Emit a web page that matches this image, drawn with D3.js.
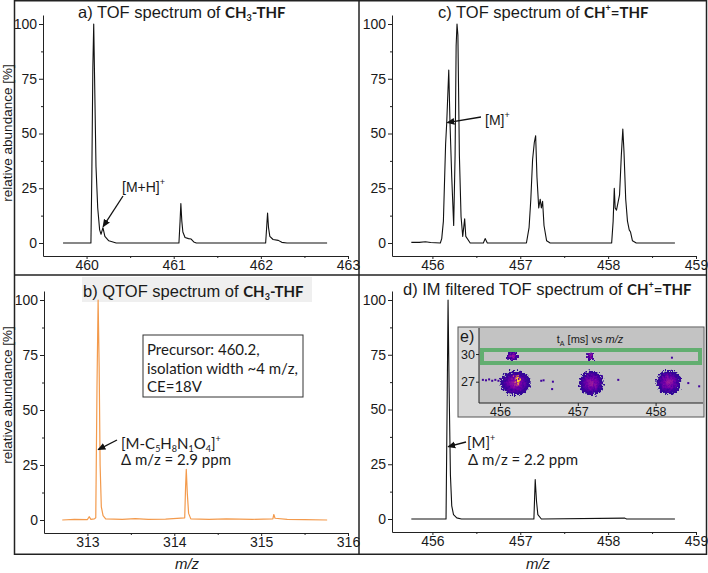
<!DOCTYPE html>
<html>
<head>
<meta charset="utf-8">
<script src="https://cdn.jsdelivr.net/npm/d3@7"></script>
<style>
  body { margin: 0; background: #fff; }
  svg text { font-family: "Liberation Sans", Arial, sans-serif; fill: #1a1a1a; }
  .axis path, .axis line { stroke: #222; }
  .cal { font-family: Lato, "Open Sans", sans-serif; }
</style>
</head>
<body>
<svg width="708" height="573"></svg>
<script>
// ***********************************
// Data: [m/z, relative abundance %]

// a) TOF spectrum of CH3-THF
var specA = [[459.73,0],[460.05,0],[460.06,30],[460.072,80],[460.082,100],[460.094,70],[460.108,35],[460.128,16],
  [460.15,6],[460.166,4],[460.188,7],[460.21,3],[460.255,1],[460.34,0],[461.06,0],[461.073,10],[461.082,18],
  [461.093,10],[461.105,5],[461.13,2.5],[461.17,2],[461.2,1.8],[461.23,0.5],[461.26,0],[462.055,0],[462.068,8],
  [462.077,13.7],[462.088,7],[462.103,3],[462.14,1.6],[462.2,1.2],[462.24,0.3],[462.3,0],[462.76,0]];

// c) TOF spectrum of CH+=THF
var specC = [[455.76,0.3],[455.85,0.3],[455.92,0.6],[455.98,0.2],[456.09,0],[456.106,2],[456.125,10],[456.15,45],
  [456.163,55],[456.186,79],[456.2,55],[456.22,30],[456.242,8],[456.258,40],[456.27,90],[456.28,100],
  [456.29,95],[456.307,40],[456.326,12],[456.345,3],[456.367,11],[456.38,3],[456.43,0],[456.58,0],[456.6,2],
  [456.625,0],[457.07,0],[457.1,7],[457.12,20],[457.14,38],[457.16,46],[457.175,49],[457.19,30],[457.21,16],
  [457.227,20],[457.24,16],[457.254,19],[457.27,8],[457.3,1],[457.34,0],[458.04,0],[458.057,10],[458.07,25],
  [458.08,16],[458.095,15],[458.11,18],[458.13,22],[458.15,40],[458.167,52],[458.18,42],[458.2,20],
  [458.22,10],[458.24,6],[458.255,5],[458.277,1],[458.32,0],[458.76,0]];

// b) QTOF spectrum of CH3-THF
var specB = [[312.71,0],[312.85,0.3],[313.0,0.2],[313.02,1.5],[313.04,0.3],[313.08,0.5],[313.096,1],[313.11,60],
  [313.123,100],[313.135,70],[313.146,25],[313.16,6],[313.18,2],[313.21,0.5],[313.4,0.3],[313.55,0.6],
  [313.7,0.3],[313.9,0.4],[314.12,1],[314.13,15],[314.138,23],[314.15,12],[314.165,3],[314.19,0.5],
  [314.4,0.3],[314.6,0.5],[314.9,0.3],[315.135,0.5],[315.146,2.5],[315.16,0.8],[315.3,0.3],[315.5,0.2],[315.76,0]];

// d) IM filtered TOF spectrum of CH+=THF
var specD = [[455.76,0],[456.155,0],[456.167,50],[456.178,100],[456.19,60],[456.205,20],[456.22,6],[456.24,2],
  [456.277,0.5],[456.33,0],[457.155,0],[457.17,18],[457.185,8],[457.2,2],[457.24,0],[458.19,0.4],[458.21,0],[458.76,0]];

var ticksA = [460, 461, 462, 463];
var ticksB = [313, 314, 315, 316];
var ticksCD = [456, 457, 458, 459];
var ticksY = [0, 25, 50, 75, 100];
var minorY = [12.5, 37.5, 62.5, 87.5];

// e) inset: ion mobility map, blobs [m/z, tA, rx m/z, ry tA]
var insetBlobs = [[456.2, 26.85, 0.2, 1.35], [457.175, 26.85, 0.165, 1.35], [458.17, 26.95, 0.165, 1.35],
  [456.16, 29.8, 0.075, 0.6], [457.16, 29.75, 0.055, 0.45]];
var insetHot = [[456.225, 27.2, 0.04, 0.6]];
var insetSpecks = [[455.78,27.2],[455.82,27.15],[455.86,27.25],[455.9,27.1],[455.94,27.2],[455.98,27.1],[456.01,27.3],
  [456.53,27.1],[456.56,27.15],[456.68,27.0],[456.67,26.2],[457.31,27.6],[457.52,27.2],[458.42,26.85],
  [458.56,26.5],[458.1,30.4],[458.21,29.6]];
var insetTicksX = [456, 457, 458];
var insetTicksY = [27, 30];

// ***********************************
var svg = d3.select("svg");
var defs = svg.append("defs");

defs.append("marker").attr("id", "arrow")
  .attr("markerUnits", "userSpaceOnUse")
  .attr("viewBox", "0 0 8 8").attr("refX", 7).attr("refY", 4)
  .attr("markerWidth", 8).attr("markerHeight", 8).attr("orient", "auto")
  .append("path").attr("d", "M0,0.5 L8,4 L0,7.5 z").attr("fill", "#111");

// Figure frame
svg.append("rect").attr("x", 14.5).attr("y", 0.75).attr("width", 692).attr("height", 553.5)
  .attr("fill", "none").attr("stroke", "#222").attr("stroke-width", 1.5);
svg.append("line").attr("x1", 359).attr("x2", 359).attr("y1", 0).attr("y2", 555)
  .attr("stroke", "#222").attr("stroke-width", 1.5);
svg.append("line").attr("x1", 14).attr("x2", 707).attr("y1", 275).attr("y2", 275)
  .attr("stroke", "#222").attr("stroke-width", 1.5);

// Panel b title background
svg.append("rect").attr("x", 82).attr("y", 277).attr("width", 230).attr("height", 25).attr("fill", "#efefef");

function styleTicks(sel, size) {
  sel.attr("font-family", null).attr("font-size", null);
  sel.selectAll("text").style("font-size", size).style("font-family", "'Liberation Sans', Arial, sans-serif");
}

// Draw one spectrum panel
function drawPanel(p) {
  var x = d3.scaleLinear().domain(p.dom).range([p.x0, p.x1]);
  var y = d3.scaleLinear().domain([0, 100]).range([p.y0, p.y100]);
  y.domain([y.invert(p.axisY), y.invert(p.top)]).range([p.axisY, p.top]);

  var g = svg.append("g");
  g.append("g").attr("class", "axis").attr("transform", "translate(0," + p.axisY + ")")
    .call(d3.axisBottom(x).tickValues(p.ticks).tickSize(3).tickPadding(1).tickSizeOuter(0).tickFormat(d3.format("d")));
  g.append("g").attr("class", "axis").attr("transform", "translate(0," + p.axisY + ")")
    .call(d3.axisBottom(x).tickValues(p.ticks.slice(0, -1).map(function(t) { return t + 0.5; }))
      .tickSize(2).tickFormat(""))
    .select(".domain").remove();
  g.append("g").attr("class", "axis").attr("transform", "translate(" + p.x0 + ",0)")
    .call(d3.axisLeft(y).tickValues(ticksY).tickSize(4).tickPadding(2).tickSizeOuter(0));
  g.append("g").attr("class", "axis").attr("transform", "translate(" + p.x0 + ",0)")
    .call(d3.axisLeft(y).tickValues(minorY).tickSize(2).tickFormat(""))
    .select(".domain").remove();
  styleTicks(g.selectAll(".axis"), "14px");

  var line = d3.line().x(function(d) { return x(d[0]); }).y(function(d) { return y(d[1]); });
  g.append("path").datum(p.data).attr("d", line)
    .attr("fill", "none").attr("stroke", p.color).attr("stroke-width", p.width || 1.1)
    .attr("stroke-linejoin", "round");
  return { x: x, y: y };
}

var pa = drawPanel({ x0: 43, x1: 348, dom: [459.5, 463], y0: 243, y100: 24, axisY: 256, top: 15,
  ticks: ticksA, data: specA, color: "#111" });
var pc = drawPanel({ x0: 392, x1: 696, dom: [455.54, 459], y0: 243, y100: 24, axisY: 256, top: 15,
  ticks: ticksCD, data: specC, color: "#111" });
var pb = drawPanel({ x0: 44, x1: 348, dom: [312.5, 316], y0: 520, y100: 300, axisY: 533, top: 291,
  ticks: ticksB, data: specB, color: "#f39a4c", width: 1.2 });
var pd = drawPanel({ x0: 392, x1: 696, dom: [455.54, 459], y0: 519, y100: 300, axisY: 532, top: 291,
  ticks: ticksCD, data: specD, color: "#111" });

// Axis titles
[133, 395].forEach(function(cy) {
  svg.append("text").attr("transform", "translate(12," + cy + ") rotate(-90)")
    .attr("text-anchor", "middle").style("font-size", "13.5px").text("relative abundance [%]");
});
[187, 538].forEach(function(cx) {
  svg.append("text").attr("x", cx).attr("y", 569).attr("text-anchor", "middle")
    .style("font-size", "15px").style("font-style", "italic").text("m/z");
});

// Titles: plain part + bold formula
function title(x, y, plain, formula) {
  var t = svg.append("text").attr("x", x).attr("y", y).style("font-size", "16.5px");
  t.append("tspan").text(plain);
  formula.forEach(function(part) {
    var s = t.append("tspan").attr("class", "cal").style("font-weight", "bold").style("font-size", "15px").text(part[0]);
    if (part[1] === "sub") s.style("font-size", "9px").attr("dy", 3);
    if (part[1] === "sup") s.style("font-size", "9px").attr("dy", -7);
    if (part[1] === "back") s.attr("dy", part[2]);
  });
}
var ch3 = [["CH"], ["3", "sub"], ["-THF", "back", -3]];
var chp = [["CH"], ["+", "sup"], ["=THF", "back", 7]];
title(78, 18, "a) TOF spectrum of ", ch3);
title(438, 18, "c) TOF spectrum of ", chp);
title(83, 297, "b) QTOF spectrum of ", ch3);
title(403, 295, "d) IM filtered TOF spectrum of ", chp);

// Annotations
function arrow(x1, y1, x2, y2) {
  svg.append("line").attr("x1", x1).attr("y1", y1).attr("x2", x2).attr("y2", y2)
    .attr("stroke", "#111").attr("stroke-width", 1.3).attr("marker-end", "url(#arrow)");
}
function ion(x, y, base, cls, size) {
  var t = svg.append("text").attr("x", x).attr("y", y).style("font-size", size);
  if (cls) t.attr("class", cls);
  base.forEach(function(part) {
    var s = t.append("tspan").text(part[0]);
    if (part[1] === "sub") s.style("font-size", "9px").attr("dy", 3);
    if (part[1] === "sup") s.style("font-size", "9px").attr("dy", part[2] || -7);
    if (part[1] === "back") s.attr("dy", part[2]);
  });
  return t;
}
ion(122, 192, [["[M+H]"], ["+", "sup"]], null, "14px");
arrow(123, 196, pa.x(460.19), pa.y(7.5));
ion(485, 125, [["[M]"], ["+", "sup"]], null, "14px");
arrow(481, 117, pc.x(456.17), pc.y(55));

ion(121, 449, [["[M-C"], ["5", "sub"], ["H", "back", -3], ["8", "sub"], ["N", "back", -3], ["1", "sub"],
  ["O", "back", -3], ["4", "sub"], ["]", "back", -3], ["+", "sup", -7]], "cal", "15px");
ion(121, 465, [["\u0394 m/z = 2.9 ppm"]], "cal", "15px");
arrow(117, 440, pb.x(313.125), pb.y(32));

ion(467, 448, [["[M]"], ["+", "sup"]], "cal", "15px");
ion(468, 465, [["\u0394 m/z = 2.2 ppm"]], "cal", "15px");
arrow(466, 442, pd.x(456.18), pd.y(33));

// Precursor box
svg.append("rect").attr("x", 143).attr("y", 335).attr("width", 160).attr("height", 62)
  .attr("fill", "#fff").attr("stroke", "#333").attr("stroke-width", 1);
["Precursor: 460.2,", "isolation width ~4 m/z,", "CE=18V"].forEach(function(s, i) {
  svg.append("text").attr("class", "cal").attr("x", 147).attr("y", 355 + i * 18.5)
    .style("font-size", "15px").text(s);
});

// ***********************************
// e) inset
var ix = d3.scaleLinear().domain([456, 458]).range([500, 655.6]);
var iy = d3.scaleLinear().domain([27, 30]).range([381.7, 354]);
var gi = svg.append("g");
gi.append("rect").attr("x", 458).attr("y", 327).attr("width", 246).attr("height", 90)
  .attr("fill", "#d9d9d9").attr("stroke", "#555").attr("stroke-width", 1);
gi.append("rect").attr("x", 479).attr("y", 328).attr("width", 224).attr("height", 75)
  .attr("fill", "#c3c3c3");

var grad = defs.append("radialGradient").attr("id", "blob");
[[0, 0.36, 1], [0.4, 0.22, 1], [0.75, 0.09, 1], [0.94, 0.04, 0.95], [1, 0.02, 0]].forEach(function(s) {
  grad.append("stop").attr("offset", s[0]).attr("stop-color", d3.interpolatePlasma(s[1])).attr("stop-opacity", s[2]);
});
var hot = defs.append("radialGradient").attr("id", "hot");
[[0, 0.97, 1], [0.5, 0.82, 1], [1, 0.6, 0]].forEach(function(s) {
  hot.append("stop").attr("offset", s[0]).attr("stop-color", d3.interpolatePlasma(s[1])).attr("stop-opacity", s[2]);
});
var rough = defs.append("filter").attr("id", "rough").attr("x", "-30%").attr("y", "-30%").attr("width", "160%").attr("height", "160%");
rough.append("feTurbulence").attr("type", "fractalNoise").attr("baseFrequency", 0.45).attr("numOctaves", 2).attr("seed", 3);
rough.append("feDisplacementMap").attr("in", "SourceGraphic").attr("scale", 8)
  .attr("xChannelSelector", "R").attr("yChannelSelector", "G");

var gb = gi.append("g").attr("filter", "url(#rough)");
gb.selectAll(".blob").data(insetBlobs).enter().append("ellipse")
  .attr("cx", function(d) { return ix(d[0]); }).attr("cy", function(d) { return iy(d[1]); })
  .attr("rx", function(d) { return ix(d[0] + d[2]) - ix(d[0]); })
  .attr("ry", function(d) { return iy(d[1]) - iy(d[1] + d[3]); })
  .attr("fill", "url(#blob)");
gb.selectAll(".hot").data(insetHot).enter().append("ellipse")
  .attr("cx", function(d) { return ix(d[0]); }).attr("cy", function(d) { return iy(d[1]); })
  .attr("rx", function(d) { return ix(d[0] + d[2]) - ix(d[0]); })
  .attr("ry", function(d) { return iy(d[1]) - iy(d[1] + d[3]); })
  .attr("fill", "url(#hot)");
gi.selectAll(".speck").data(insetSpecks).enter().append("rect")
  .attr("x", function(d) { return ix(d[0]) - 1; }).attr("y", function(d) { return iy(d[1]) - 1; })
  .attr("width", 2).attr("height", 2).attr("fill", d3.interpolatePlasma(0.1));

// green selection box
gi.append("rect").attr("x", 482).attr("y", 350).attr("width", 218).attr("height", 13)
  .attr("fill", "none").attr("stroke", "#62ae70").attr("stroke-width", 4);

var iax = gi.append("g").attr("class", "axis").attr("transform", "translate(0,403)")
  .call(d3.axisBottom(ix).tickValues(insetTicksX).tickSize(3).tickPadding(1).tickSizeOuter(0).tickFormat(d3.format("d")));
iax.select(".domain").attr("d", "M479,0H703");
var iay = gi.append("g").attr("class", "axis").attr("transform", "translate(479,0)")
  .call(d3.axisLeft(iy).tickValues(insetTicksY).tickSize(3).tickPadding(1).tickSizeOuter(0).tickFormat(d3.format("d")));
iay.select(".domain").attr("d", "M0,328V403");
styleTicks(gi.selectAll(".axis"), "12.5px");

gi.append("text").attr("x", 460).attr("y", 342).style("font-size", "16px").text("e)");
var it = gi.append("text").attr("x", 590).attr("y", 343).attr("text-anchor", "middle").style("font-size", "11px");
it.append("tspan").text("t");
it.append("tspan").text("A").style("font-size", "7px").attr("dy", 3);
it.append("tspan").text(" [ms] vs ").attr("dy", -3);
it.append("tspan").text("m/z").style("font-style", "italic");
</script>
</body>
</html>
